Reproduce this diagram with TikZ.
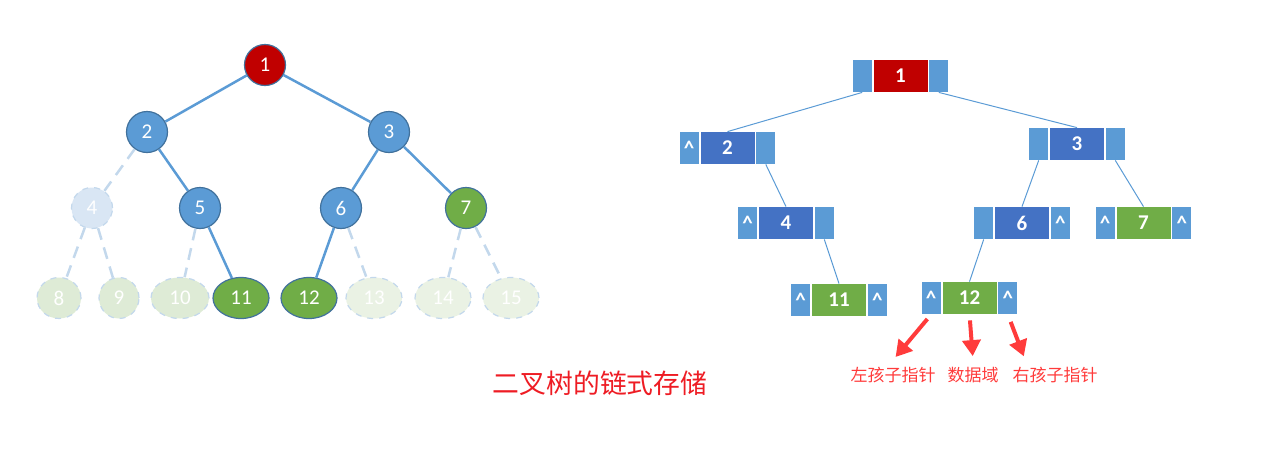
\documentclass[tikz,border=0pt]{standalone}
\usepackage{fontspec}
\setmainfont{Carlito}
\newfontfamily\cjk{Noto Sans CJK SC}
\usetikzlibrary{arrows.meta,positioning,calc,shapes.geometric}
\definecolor{nodeblue}{HTML}{5B9BD5}
\definecolor{rimblue}{HTML}{41719C}
\definecolor{datablue}{HTML}{4472C4}
\definecolor{rootred}{HTML}{C00000}
\definecolor{leafgreen}{HTML}{70AD47}
\definecolor{ghostblue}{HTML}{D9E6F4}
\definecolor{ghostgreen}{HTML}{DEEBD6}
\definecolor{palegreen}{HTML}{EAF2E4}
\definecolor{ghostline}{HTML}{C3D8EC}
\definecolor{notered}{HTML}{FF3B3B}
\definecolor{titlered}{HTML}{EE1C24}

\begin{document}
\begin{tikzpicture}[x=0.5pt, y=-0.5pt, font=\fontsize{10.5}{12}\selectfont,
      tn/.style={circle, draw=rimblue, line width=0.6pt, minimum size=20.5pt, inner sep=0pt,
                 text=white, fill=nodeblue},
      lf/.style={ellipse, draw=rimblue, line width=0.6pt, minimum width=28pt, minimum height=20.5pt,
                 inner sep=0pt, text=white, fill=leafgreen},
      ghost/.style={draw=ghostline, dashed},
      tl/.style={nodeblue, line width=1.25pt},
      gl/.style={ghostline, line width=1.25pt, dash pattern=on 6pt off 4pt},
      cell/.style={inner sep=0pt, minimum height=16pt, text=white, font=\fontsize{10.5}{12}\selectfont\bfseries},
      ptr/.style={cell, fill=nodeblue, minimum width=9.5pt},
      dat/.style={cell, fill=datablue, minimum width=27pt},
      lk/.style={nodeblue, line width=0.5pt},
      note/.style={text=notered, font=\fontsize{8.5}{10}\selectfont\cjk},
      ar/.style={-{Triangle[length=8pt, width=9pt]}, notered, line width=2pt}]
    \useasboundingbox (0,0) rectangle (1270,456);
    % --- complete binary tree (left) ---
    \node[tn, fill=rootred] (t1) at (265,65) {1};
    \node[tn] (t2) at (147,132) {2};
    \node[tn] (t3) at (389,132) {3};
    \node[tn, ghost, fill=ghostblue] (t4) at (92,208) {4};
    \node[tn] (t5) at (200,208) {5};
    \node[tn] (t6) at (341,208) {6};
    \node[tn, fill=leafgreen] (t7) at (466,208) {7};
    \node[lf, ghost, fill=ghostgreen, minimum width=22pt] (t8) at (59,298) {8};
    \node[lf, ghost, fill=ghostgreen, minimum width=20pt] (t9) at (119,298) {9};
    \node[lf, ghost, fill=ghostgreen, minimum width=29pt] (t10) at (180,298) {10};
    \node[lf] (t11) at (241,298) {11};
    \node[lf] (t12) at (309,298) {12};
    \node[lf, ghost, fill=palegreen] (t13) at (374,298) {13};
    \node[lf, ghost, fill=palegreen] (t14) at (443,298) {14};
    \node[lf, ghost, fill=palegreen] (t15) at (511,298) {15};
    \draw[tl] (t1) -- (t2);
    \draw[tl] (t1) -- (t3);
    \draw[tl] (t2) -- (t5);
    \draw[tl] (t3) -- (t6);
    \draw[tl] (t3) -- (t7);
    \draw[tl] (t5) -- (t11);
    \draw[tl] (t6) -- (t12);
    \draw[gl] (t2) -- (t4);
    \draw[gl] (t4) -- (t8);
    \draw[gl] (t4) -- (t9);
    \draw[gl] (t5) -- (t10);
    \draw[gl] (t6) -- (t13);
    \draw[gl] (t7) -- (t14);
    \draw[gl] (t7) -- (t15);
    % --- linked storage (right) ---
    \node[dat, fill=rootred] (d1) at (900.5,76) {1};
    \node[ptr, left=0.5pt of d1] (l1) {};
    \node[ptr, right=0.5pt of d1] (r1) {};
    \node[dat] (d2) at (727.5,148) {2};
    \node[ptr, left=0.5pt of d2] (l2) {\textasciicircum};
    \node[ptr, right=0.5pt of d2] (r2) {};
    \node[dat] (d3) at (1077,144) {3};
    \node[ptr, left=0.5pt of d3] (l3) {};
    \node[ptr, right=0.5pt of d3] (r3) {};
    \node[dat] (d4) at (786,223) {4};
    \node[ptr, left=0.5pt of d4] (l4) {\textasciicircum};
    \node[ptr, right=0.5pt of d4] (r4) {};
    \node[dat] (d6) at (1022,223) {6};
    \node[ptr, left=0.5pt of d6] (l6) {};
    \node[ptr, right=0.5pt of d6] (r6) {\textasciicircum};
    \node[dat, fill=leafgreen] (d7) at (1143.5,223) {7};
    \node[ptr, left=0.5pt of d7] (l7) {\textasciicircum};
    \node[ptr, right=0.5pt of d7] (r7) {\textasciicircum};
    \node[dat, fill=leafgreen] (d11) at (839,300) {11};
    \node[ptr, left=0.5pt of d11] (l11) {\textasciicircum};
    \node[ptr, right=0.5pt of d11] (r11) {\textasciicircum};
    \node[dat, fill=leafgreen] (d12) at (969.5,298) {12};
    \node[ptr, left=0.5pt of d12] (l12) {\textasciicircum};
    \node[ptr, right=0.5pt of d12] (r12) {\textasciicircum};
    \draw[lk] (l1.south) -- (d2.north);
    \draw[lk] (r1.south) -- (d3.north);
    \draw[lk] (r2.south) -- (d4.north);
    \draw[lk] (l3.south) -- (d6.north);
    \draw[lk] (r3.south) -- (d7.north);
    \draw[lk] (r4.south) -- (d11.north);
    \draw[lk] (l6.south) -- (d12.north);
    % --- field labels under node 12 ---
    \node[note] (lbl) at (893,375) {左孩子指针};
    \node[note] (lbd) at (973,375) {数据域};
    \node[note] (lbr) at (1055,375) {右孩子指针};
    \draw[ar, shorten <=3pt, shorten >=2pt] (l12.south) -- (lbl.north);
    \draw[ar, shorten <=3pt, shorten >=2pt] (d12.south) -- (lbd.north);
    \draw[ar, shorten <=4pt, shorten >=2pt] (r12.south) -- ($(lbr.north west)!0.2!(lbr.north east)$);
    % --- caption ---
    \node[text=titlered, font=\fontsize{13.4}{15}\selectfont\cjk] (cap) at (600,383) {二叉树的链式存储};
  \end{tikzpicture}
\end{document}
